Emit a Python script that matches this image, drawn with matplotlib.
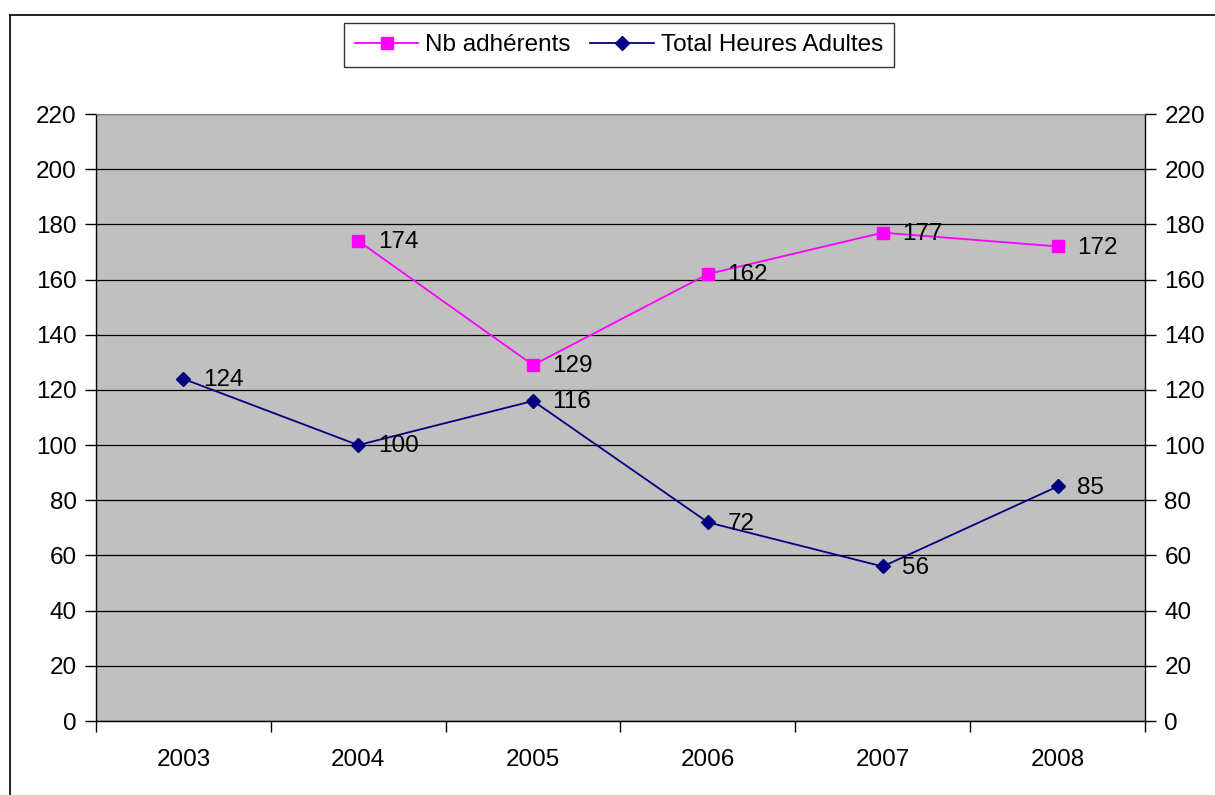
import matplotlib
matplotlib.use("Agg")
import matplotlib.pyplot as plt
from matplotlib.lines import Line2D
import numpy as np

years = ["2003", "2004", "2005", "2006", "2007", "2008"]
adherents = [np.nan, 174, 129, 162, 177, 172]
heures = [124, 100, 116, 72, 56, 85]
yticks = list(range(0, 221, 20))

plt.rcParams['font.family'] = ['Liberation Sans', 'DejaVu Sans']
FS = 17.5
W, H = 1215, 795
fig = plt.figure(figsize=(W / 100, H / 100), dpi=100)
fig.patch.set_facecolor('white')

# outer frame (left and top visible)
fig.add_artist(Line2D([10 / W, 10 / W], [0, 1 - 15 / H], color='black', lw=1.2, transform=fig.transFigure))
fig.add_artist(Line2D([10 / W, 1], [1 - 15 / H, 1 - 15 / H], color='black', lw=1.2, transform=fig.transFigure))

left, right, top, bottom = 96, 1145, 114, 721
ax = fig.add_axes([left / W, 1 - bottom / H, (right - left) / W, (bottom - top) / H])
ax.set_facecolor('#C0C0C0')
x = np.arange(len(years))
ax.set_xlim(-0.5, len(years) - 0.5)
ax.set_ylim(0, 220)
ax.set_yticks(yticks)
ax.yaxis.grid(True, color='black', lw=0.9)
ax.set_axisbelow(True)
ax.tick_params(axis='y', direction='out', length=8, width=1, labelsize=FS, pad=6,
               right=True, labelright=True)
ax.set_xticks(x)
ax.set_xticklabels(years, fontsize=FS)
ax.tick_params(axis='x', length=0, pad=20)
ax.set_xticks(np.arange(-0.5, len(years)), minor=True)
ax.tick_params(axis='x', which='minor', direction='out', length=8, width=1)
for s in ['left', 'right', 'bottom']:
    ax.spines[s].set_color('black')
    ax.spines[s].set_linewidth(1)
ax.spines['top'].set_color('#808080')

l1, = ax.plot(x, adherents, color='#FF00FF', marker='s', markersize=8, lw=1.3,
              markerfacecolor='#FF00FF', markeredgecolor='#FF00FF', label='Nb adhérents')
l2, = ax.plot(x, heures, color='#000080', marker='D', markersize=7.5, lw=1.3,
              label='Total Heures Adultes')

for xi, v in zip(x, adherents):
    if not np.isnan(v):
        ax.annotate(f"{int(v)}", (xi, v), xytext=(14, -1), textcoords='offset points',
                    fontsize=FS, va='center', ha='left')
for xi, v in zip(x, heures):
    ax.annotate(f"{int(v)}", (xi, v), xytext=(14, -1), textcoords='offset points',
                fontsize=FS, va='center', ha='left')

leg = fig.legend(handles=[l1, l2], loc='center', bbox_to_anchor=(619 / W, 1 - 45 / H),
                 ncol=2, fontsize=FS, frameon=True, fancybox=False, edgecolor='black',
                 handlelength=2.6, handletextpad=0.3, columnspacing=0.8, borderpad=0.45)
leg.get_frame().set_linewidth(1)

fig.savefig("out.png", dpi=100)
